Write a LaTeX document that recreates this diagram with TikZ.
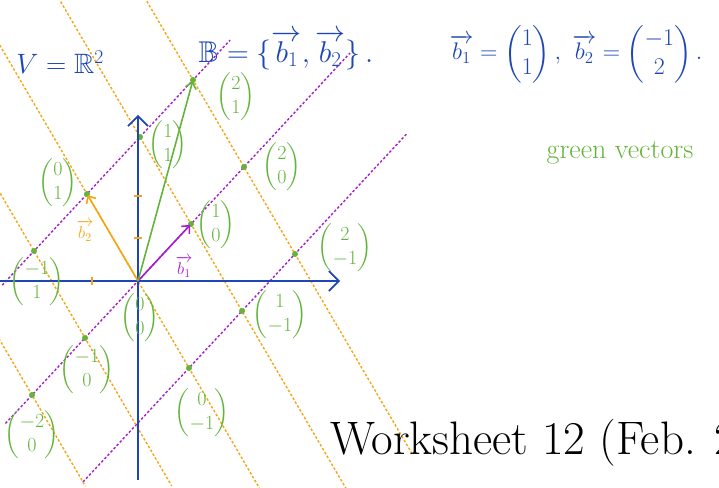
\documentclass[tikz,border=0pt]{standalone}
\usepackage{fix-cm}
\usepackage{amsmath,amssymb}
\usetikzlibrary{arrows.meta}
\definecolor{penblue}{RGB}{30,70,180}
\definecolor{pengreen}{RGB}{100,180,60}
\definecolor{penorange}{RGB}{245,165,20}
\definecolor{penpurple}{RGB}{165,30,205}

\begin{document}
\begin{tikzpicture}[x=1pt, y=1pt]
    \tikzstyle{every node}=[align=center];
    \tikzstyle{axis} = [penblue, line width=1.6pt, -{Straight Barb[length=10pt, width=20pt]}]
    \tikzstyle{bline} = [penpurple, line width=1.4pt, dash pattern=on 2.5pt off 2pt]
    \tikzstyle{aline} = [penorange, line width=1.4pt, dash pattern=on 2.5pt off 2pt]
    \tikzstyle{vec} = [line width=1.6pt, -{Straight Barb[length=6pt, width=11pt]}, shorten >=-2pt]
    \tikzstyle{gdot} = [circle, fill=pengreen, inner sep=0pt, minimum size=6pt]
    \tikzstyle{coord} = [text=pengreen, inner sep=1pt, font=\fontsize{20}{24}\selectfont]
    \tikzstyle{pen} = [text=penblue, inner sep=1pt, font=\fontsize{28}{34}\selectfont]
    \tikzstyle{tick} = [penorange, line width=1.3pt]

    \useasboundingbox (0,0) rectangle (719,487);
    \clip (0,0) rectangle (719,487);

    % lattice in the basis b1, b2
    \begin{scope}[shift={(138,206)}, x={(53pt,57pt)}, y={(-51pt,87pt)}]
        \draw[bline] (-1.6,1) -- (2.7,1);
        \draw[bline] (-2.5,0) -- (4,0);
        \draw[bline] (-2,-1) -- (4.1,-1);

        \draw[aline] (2,1.95) -- (2,-3.3);
        \draw[aline] (1,2.6) -- (1,-3.05);
        \draw[aline] (0,2.8) -- (0,-2.45);
        \draw[aline] (-1,1.75) -- (-1,-1.7);
        \draw[aline] (-2,0.65) -- (-2,-1.05);

        \coordinate (O) at (0,0);
        \node[gdot] (P10) at (1,0) {};
        \node[gdot] (P20) at (2,0) {};
        \node[gdot] (Pm10) at (-1,0) {};
        \node[gdot] (Pm20) at (-2,0) {};
        \node[gdot] (P01) at (0,1) {};
        \node[gdot] (P11) at (1,1) {};
        \node[gdot] (P21) at (2,1) {};
        \node[gdot] (Pm11) at (-1,1) {};
        \node[gdot] (P2m1) at (2,-1) {};
        \node[gdot] (P1m1) at (1,-1) {};
        \node[gdot] (P0m1) at (0,-1) {};
    \end{scope}

    % axes
    \coordinate (xl) at (0,206);
    \coordinate (xr) at (340,206);
    \coordinate (yb) at (138,7);
    \coordinate (yt) at (138,372);
    \draw[axis] (xl) -- (xr);
    \draw[axis] (yb) -- (yt);
    \draw[tick] (134,249) -- (142,249);
    \draw[tick] (134,291) -- (142,291);
    \draw[tick] (92,202) -- (92,210);

    % basis and green vector
    \draw[vec, penorange] (O) -- (P01);
    \draw[vec, penpurple] (O) -- (P10);
    \draw[vec, pengreen] (O) -- (P21);

    \node[text=penpurple, font=\fontsize{17}{20}\selectfont] (nb1) at (184,220) {$\overrightarrow{b_1}$};
    \node[text=penorange, font=\fontsize{17}{20}\selectfont] (nb2) at (85,256) {$\overrightarrow{b_2}$};

    \node[coord] (l21) at (236,390) {$\begin{pmatrix}2\\1\end{pmatrix}$};
    \node[coord] (l11) at (168,342) {$\begin{pmatrix}1\\1\end{pmatrix}$};
    \node[coord] (l01) at (58,304) {$\begin{pmatrix}0\\1\end{pmatrix}$};
    \node[coord] (l20) at (282,320) {$\begin{pmatrix}2\\0\end{pmatrix}$};
    \node[coord] (l10) at (216,262) {$\begin{pmatrix}1\\0\end{pmatrix}$};
    \node[coord] (lm11) at (37,205) {$\begin{pmatrix}-1\\1\end{pmatrix}$};
    \node[coord] (l2m1) at (345,239) {$\begin{pmatrix}2\\-1\end{pmatrix}$};
    \node[coord] (l00) at (140,169) {$\begin{pmatrix}0\\0\end{pmatrix}$};
    \node[coord] (l1m1) at (280,172) {$\begin{pmatrix}1\\-1\end{pmatrix}$};
    \node[coord] (lm10) at (87,117) {$\begin{pmatrix}-1\\0\end{pmatrix}$};
    \node[coord] (l0m1) at (202,74) {$\begin{pmatrix}0\\-1\end{pmatrix}$};
    \node[coord] (lm20) at (32,52) {$\begin{pmatrix}-2\\0\end{pmatrix}$};

    % handwritten header
    \node[pen] (space) at (60,425) {$V=\mathbb{R}^2$};
    \node[pen, font=\fontsize{30}{36}\selectfont] (basis) at (286,437) {$\mathbb{B}=\{\overrightarrow{b_1},\overrightarrow{b_2}\}\,.$};
    \node[pen, font=\fontsize{24}{29}\selectfont] (vals) at (576,433) {$\overrightarrow{b_1}=\begin{pmatrix}1\\1\end{pmatrix},\ \overrightarrow{b_2}=\begin{pmatrix}-1\\2\end{pmatrix}.$};
    \node[text=pengreen, font=\fontsize{28}{32}\selectfont] (note) at (620,334) {green vectors};

    \node[anchor=base west, inner sep=0pt, font=\fontsize{47}{54}\selectfont] (title) at (330,33) {Worksheet 12 (Feb. 2};

\end{tikzpicture}
\end{document}
